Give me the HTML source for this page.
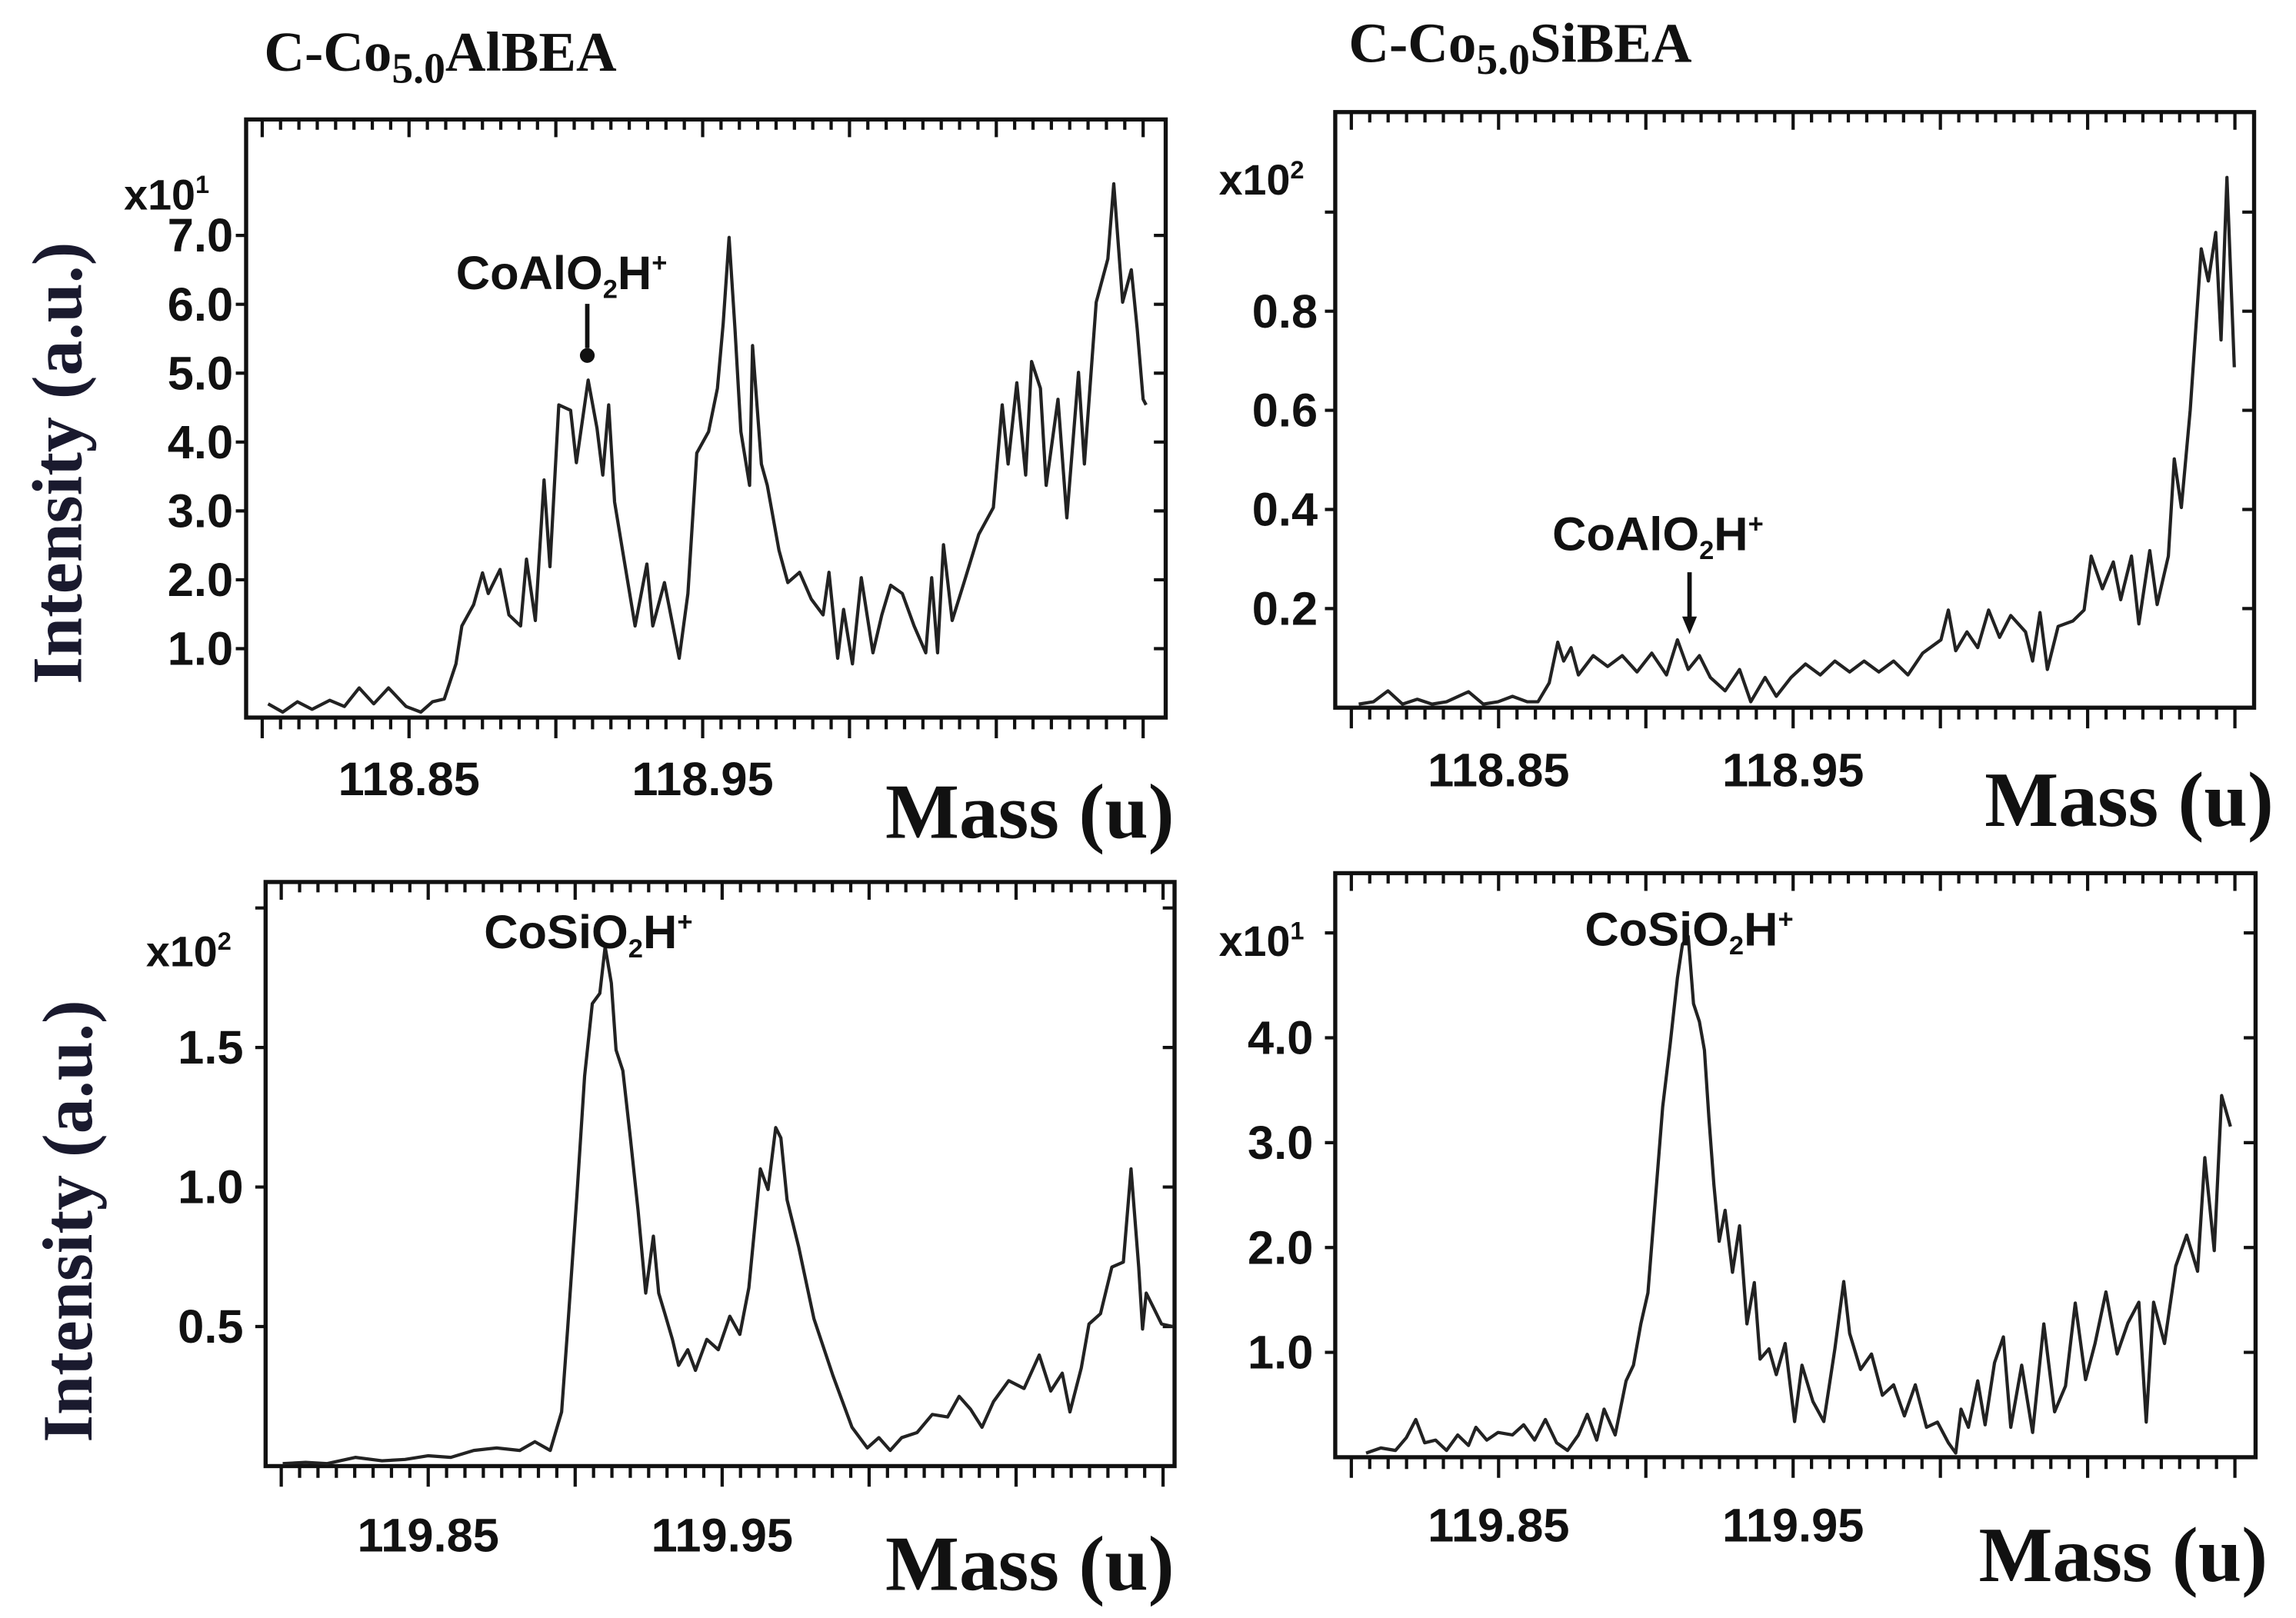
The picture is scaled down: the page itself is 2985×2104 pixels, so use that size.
<!DOCTYPE html>
<html><head><meta charset="utf-8"><style>
html,body{margin:0;padding:0;background:#fff;}
svg{display:block;}
.tk{font-family:"Liberation Sans",sans-serif;font-weight:bold;font-size:32px;fill:#111;}
.sm{font-family:"Liberation Sans",sans-serif;font-weight:bold;font-size:29px;fill:#111;}
.an{font-family:"Liberation Sans",sans-serif;font-weight:bold;font-size:32px;fill:#111;}
.ti{font-family:"Liberation Serif",serif;font-weight:bold;font-size:38px;fill:#111;}
.big{font-family:"Liberation Serif",serif;font-weight:bold;font-size:53px;fill:#111;}
.yl{font-family:"Liberation Serif",serif;font-weight:bold;font-size:48px;fill:#1a1a2e;}
</style></head><body>
<svg id="fig" width="2985" height="2104" viewBox="0 0 1556 1097" preserveAspectRatio="none" xmlns="http://www.w3.org/2000/svg">
<text class="ti" x="179" y="48">C-Co<tspan font-size="29" dy="8">5.0</tspan><tspan dy="-8">AlBEA</tspan></text>
<text class="ti" x="914" y="42">C-Co<tspan font-size="29" dy="8">5.0</tspan><tspan dy="-8">SiBEA</tspan></text>
<text class="yl" transform="translate(55,464) rotate(-90)">Intensity (a.u.)</text>
<text class="yl" transform="translate(62,978) rotate(-90)">Intensity (a.u.)</text>
<text class="big" x="600" y="568">Mass (u)</text>
<text class="big" x="1345" y="560">Mass (u)</text>
<text class="big" x="600" y="1078">Mass (u)</text>
<text class="big" x="1341" y="1072">Mass (u)</text>
</svg>
<script>
const tlMass=[118.802,118.807,118.812,118.817,118.823,118.828,118.833,118.838,118.843,118.849,118.854,118.858,118.862,118.866,118.868,118.872,118.875,118.877,118.881,118.884,118.888,118.890,118.893,118.896,118.898,118.901,118.905,118.907,118.911,118.914,118.916,118.918,118.920,118.923,118.927,118.931,118.933,118.937,118.942,118.945,118.948,118.952,118.955,118.957,118.959,118.961,118.963,118.966,118.967,118.970,118.972,118.976,118.979,118.983,118.987,118.991,118.993,118.996,118.998,119.001,119.004,119.008,119.011,119.014,119.018,119.022,119.026,119.028,119.030,119.032,119.035,119.039,119.044,119.049,119.052,119.054,119.057,119.060,119.062,119.065,119.067,119.071,119.074,119.078,119.080,119.084,119.088,119.090,119.093,119.096,119.098,119.100,119.101];
const tlInt=[0.2,0.08,0.23,0.12,0.25,0.16,0.43,0.2,0.43,0.16,0.08,0.23,0.27,0.78,1.33,1.64,2.1,1.8,2.15,1.49,1.33,2.3,1.41,3.45,2.19,4.54,4.46,3.7,4.9,4.2,3.52,4.54,3.13,2.35,1.33,2.23,1.33,1.96,0.86,1.8,3.84,4.15,4.78,5.72,6.97,5.64,4.15,3.37,5.4,3.68,3.37,2.43,1.96,2.11,1.72,1.49,2.11,0.86,1.57,0.78,2.03,0.94,1.49,1.92,1.8,1.33,0.94,2.03,0.94,2.51,1.41,1.96,2.66,3.05,4.54,3.68,4.86,3.52,5.17,4.78,3.37,4.62,2.9,5.01,3.68,6.03,6.66,7.75,6.03,6.5,5.64,4.62,4.54];
const trMass=[118.8025,118.8075,118.8124,118.8174,118.8224,118.8274,118.8323,118.8398,118.8448,118.8498,118.8547,118.8597,118.8634,118.8672,118.8701,118.8721,118.8746,118.8771,118.8821,118.887,118.892,118.897,118.902,118.907,118.9107,118.9144,118.9182,118.9219,118.9269,118.9318,118.9356,118.9405,118.9443,118.9493,118.9542,118.9592,118.9642,118.9692,118.9741,118.9791,118.9841,118.989,118.994,119.0002,119.0027,119.0052,119.009,119.0127,119.0164,119.0201,119.0239,119.0289,119.0313,119.0338,119.0363,119.04,119.045,119.0488,119.0512,119.055,119.0587,119.0612,119.0649,119.0674,119.0711,119.0736,119.0774,119.0794,119.0818,119.0848,119.0886,119.091,119.0935,119.0953,119.0973,119.0998];
const trInt=[0.007,0.012,0.034,0.007,0.017,0.007,0.012,0.032,0.007,0.012,0.023,0.012,0.012,0.05,0.132,0.094,0.121,0.066,0.105,0.083,0.105,0.072,0.11,0.066,0.137,0.077,0.105,0.061,0.034,0.077,0.012,0.061,0.023,0.061,0.088,0.066,0.094,0.072,0.094,0.072,0.094,0.066,0.11,0.137,0.197,0.115,0.153,0.121,0.197,0.142,0.186,0.153,0.094,0.192,0.077,0.164,0.175,0.197,0.306,0.24,0.294,0.218,0.306,0.169,0.317,0.208,0.306,0.502,0.404,0.6,0.926,0.861,0.959,0.742,1.07,0.687];
const blMass=[119.8005,119.8083,119.8156,119.8252,119.8343,119.8421,119.8499,119.8577,119.8655,119.8733,119.8811,119.8863,119.8915,119.8954,119.8975,119.9006,119.9032,119.9058,119.9084,119.9102,119.9123,119.9139,119.9162,119.9188,119.9214,119.924,119.9266,119.9284,119.9305,119.9331,119.9352,119.9383,119.9409,119.9448,119.9487,119.9526,119.956,119.9591,119.963,119.9656,119.9682,119.97,119.9721,119.976,119.9812,119.9877,119.9942,119.9994,120.0033,120.0072,120.0111,120.0163,120.0215,120.0267,120.0306,120.0345,120.0384,120.0423,120.0475,120.0527,120.0579,120.0618,120.0657,120.0683,120.0722,120.0748,120.0787,120.0826,120.0865,120.0891,120.0917,120.093,120.0943,120.0969,120.0995,120.1034];
const blInt=[0.009,0.013,0.009,0.031,0.019,0.024,0.037,0.031,0.056,0.065,0.056,0.087,0.056,0.194,0.5,0.972,1.398,1.657,1.694,1.861,1.731,1.491,1.417,1.176,0.917,0.62,0.824,0.62,0.546,0.454,0.361,0.417,0.343,0.454,0.417,0.537,0.472,0.639,1.065,0.991,1.213,1.176,0.954,0.787,0.528,0.324,0.139,0.065,0.102,0.056,0.102,0.12,0.185,0.176,0.25,0.204,0.139,0.231,0.306,0.278,0.398,0.269,0.333,0.194,0.352,0.509,0.546,0.713,0.731,1.065,0.713,0.491,0.62,0.565,0.509,0.5];
const brMass=[119.805,119.81,119.815,119.8187,119.8219,119.8249,119.8286,119.8323,119.8361,119.8398,119.8423,119.846,119.8498,119.8547,119.8585,119.8622,119.8659,119.8697,119.8734,119.8771,119.8801,119.8833,119.8858,119.8896,119.8933,119.8958,119.8983,119.9007,119.9032,119.9057,119.9082,119.9107,119.9124,119.9144,119.9162,119.9182,119.9199,119.9214,119.9231,119.9249,119.9269,119.9294,119.9318,119.9343,119.9368,119.9388,119.9418,119.9443,119.9473,119.9505,119.953,119.9567,119.9604,119.9642,119.9672,119.9692,119.9729,119.9766,119.9803,119.9841,119.9878,119.9915,119.9953,119.999,120.0027,120.0052,120.007,120.0095,120.0127,120.0152,120.0184,120.0214,120.0239,120.0276,120.0313,120.0351,120.0388,120.0425,120.0458,120.0493,120.0525,120.0562,120.06,120.0637,120.0674,120.0699,120.0724,120.0761,120.0799,120.0836,120.0873,120.0898,120.093,120.0955,120.0985];
const brInt=[0.039,0.089,0.064,0.187,0.36,0.138,0.163,0.064,0.212,0.113,0.286,0.163,0.236,0.212,0.31,0.163,0.36,0.138,0.064,0.212,0.409,0.163,0.458,0.212,0.729,0.877,1.271,1.567,2.453,3.34,3.93,4.571,4.892,4.966,4.325,4.153,3.882,3.241,2.601,2.059,2.355,1.764,2.207,1.271,1.665,0.936,1.034,0.788,1.084,0.34,0.877,0.532,0.34,1.034,1.675,1.182,0.837,0.985,0.591,0.69,0.394,0.69,0.286,0.335,0.138,0.039,0.458,0.286,0.729,0.31,0.901,1.148,0.286,0.877,0.236,1.271,0.433,0.68,1.47,0.74,1.084,1.576,0.985,1.281,1.478,0.335,1.478,1.084,1.823,2.118,1.773,2.857,1.97,3.448,3.153];
const tlYTicks=[1,2,3,4,5,6,7];
const tlYLabels=["1.0","2.0","3.0","4.0","5.0","6.0","7.0"];
const trYTicks=[0.2,0.4,0.6,0.8,1.0];
const trYLabels=["0.2","0.4","0.6","0.8",""];
const blYTicks=[0.5,1.0,1.5,2.0];
const blYLabels=["0.5","1.0","1.5",""];
const brYTicks=[1,2,3,4,5];
const brYLabels=["1.0","2.0","3.0","4.0",""];
const tlXMajor=[118.80,118.85,118.90,118.95,119.00,119.05,119.10];
const blXMajor=[119.80,119.85,119.90,119.95,120.00,120.05,120.10];
const tlXLabels=["","118.85","","118.95","","",""];
const blXLabels=["","119.85","","119.95","","",""];

const NS="http://www.w3.org/2000/svg";
const svg=document.getElementById('fig');
function mk(tag,attrs,parent){const e=document.createElementNS(NS,tag);for(const k in attrs)e.setAttribute(k,attrs[k]);(parent||svg).appendChild(e);return e;}

function panel(id,box,x0,m0,xs,y0,ys,mass,inten,yT,yL,xMaj,xLab,labX,xLabY,mult,multX,multY){
  const g=mk('g',{});
  
  
  const X=m=>x0+(m-m0)*xs, Y=v=>y0-v*ys;
  const [L,T,R,B]=box;
  const frame=mk('rect',{x:L,y:T,width:R-L,height:B-T,fill:'none',stroke:'#111','stroke-width':2.8},g);
  
  
  let d='';
  const step=0.00625;
  for(let i=0;i<=52;i++){const m=m0+i*step;const px=X(m);if(px>R-3)break;if(px<L+2)continue;
    const major=(i%8===0);
    d+='M'+px+' '+B+'v'+(major?14:8)+'M'+px+' '+T+'v'+(major?12:7);}
  yT.forEach(v=>{const py=Y(v);d+='M'+(L-7)+' '+py+'h7M'+R+' '+py+'h-8';});
  const ticks=mk('path',{d:d,stroke:'#111','stroke-width':2.2,fill:'none'},g);
  
  
  yT.forEach((v,i)=>{if(!yL[i])return;const t=mk('text',{x:labX,y:Y(v)+11,'text-anchor':'end',class:'tk'},g);t.textContent=yL[i];
    
    });
  xMaj.forEach((m,i)=>{if(!xLab[i])return;const t=mk('text',{x:X(m),y:xLabY,'text-anchor':'middle',class:'tk'},g);t.textContent=xLab[i];
    
    });
  const mt=mk('text',{x:multX,y:multY,class:'sm'},g);mt.innerHTML='x10<tspan font-size="17" dy="-11">'+mult+'</tspan>';
  
  
  let p='';mass.forEach((m,i)=>{p+=(i?'L':'M')+X(m).toFixed(1)+' '+Y(inten[i]).toFixed(1);});
  const ln=mk('path',{d:p,fill:'none',stroke:'#222','stroke-width':2.2,'stroke-linejoin':'round'},g);
  
  
  return g;
}
panel('tl',[166.8,81,790,486.5],177.7,118.80,1990,486.5,46.7,tlMass,tlInt,tlYTicks,tlYLabels,tlXMajor,tlXLabels,158,539,'1',84,142);
panel('tr',[904.9,76,1527.6,479.8],915.8,118.80,1996,479.8,336,trMass,trInt,trYTicks,trYLabels,tlXMajor,tlXLabels,893,533,'2',826,132);
panel('bl',[180,598,796,994],190.6,119.80,1992,994,189.2,blMass,blInt,blYTicks,blYLabels,blXMajor,blXLabels,165,1052,'2',99,655);
panel('br',[904.9,592,1528.6,988],915.8,119.80,1996,988,71.1,brMass,brInt,brYTicks,brYLabels,blXMajor,blXLabels,890,1045,'1',826,648);

function ann(name,x,y,main){const t=mk('text',{x:x,y:y,class:'an'});
  t.innerHTML=main+'O<tspan font-size="18" dy="6">2</tspan><tspan dy="-6">H</tspan><tspan font-size="18" dy="-12">+</tspan>';
  
  }
ann('peak-label-tl',309,196,'CoAl');
ann('peak-label-tr',1052,373,'CoAl');
ann('peak-label-bl',328,643,'CoSi');
ann('peak-label-br',1074,641,'CoSi');
const a1=mk('path',{d:'M398 206V236',stroke:'#111','stroke-width':3,fill:'none'});


const d1=mk('circle',{cx:398,cy:241,r:5,fill:'#111'});


const a2=mk('path',{d:'M1145 388V420',stroke:'#111','stroke-width':3,fill:'none'});


const d2=mk('path',{d:'M1140 418L1150 418L1145 430Z',fill:'#111'});


</script>
</body></html>
